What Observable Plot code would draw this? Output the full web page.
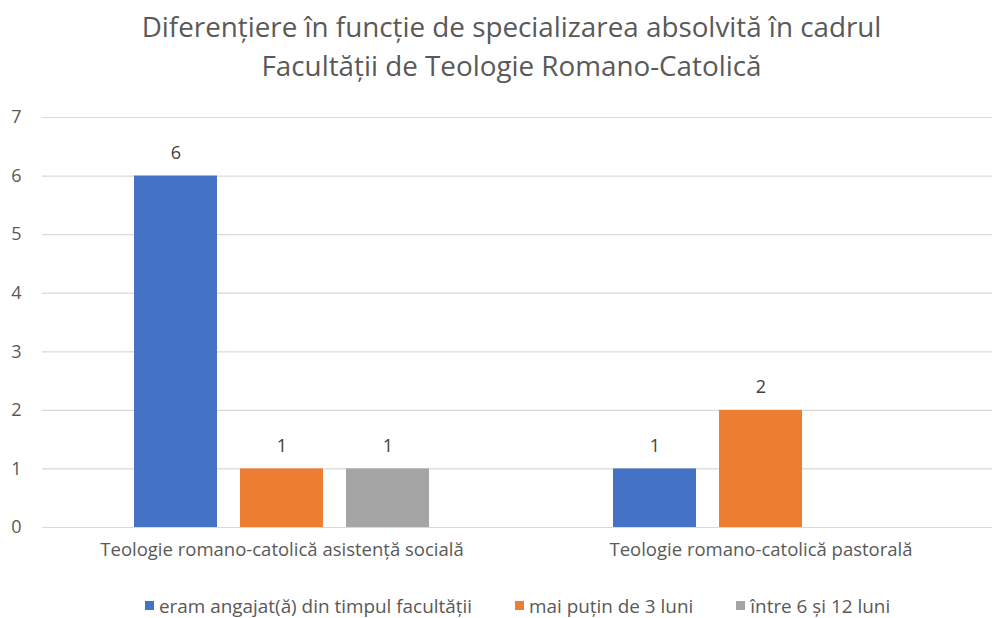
<!DOCTYPE html>
<html><head><meta charset="utf-8">
<script src="https://cdn.jsdelivr.net/npm/d3@7"></script>
<script src="https://cdn.jsdelivr.net/npm/@observablehq/plot@0.6"></script>
<style>
html,body{margin:0;padding:0;background:#fff;}
body{width:992px;height:618px;overflow:hidden;font-family:"Open Sans",sans-serif;color:#595959;}
#title{height:95px;box-sizing:border-box;padding-top:7px;padding-left:31px;text-align:center;font-size:27.8px;line-height:39px;color:#595959;white-space:nowrap;}
#chart svg{display:block;}
#legend{height:43px;box-sizing:border-box;padding-top:18px;padding-left:145px;display:flex;align-items:center;font-size:18.9px;line-height:22px;color:#595959;white-space:nowrap;}
.item{display:flex;align-items:center;margin-right:43px;}
.sw{width:9px;height:9px;margin-right:5px;}
</style>
</head><body>
<div id="title">Diferențiere în funcție de specializarea absolvită în cadrul<br>Facultății de Teologie Romano-Catolică</div>
<div id="chart"></div>
<div id="legend"></div>
<script>
const categories = ["Teologie romano-catolică asistență socială", "Teologie romano-catolică pastorală"];
const seriesNames = ["eram angajat(ă) din timpul facultății", "mai puțin de 3 luni", "între 6 și 12 luni"];
const angajat = [6, 1];
const sub3luni = [1, 2];
const intre6si12 = [1, null];
const yTicks = [0, 1, 2, 3, 4, 5, 6, 7];
const colors = ["#4472C4", "#ED7D31", "#A5A5A5"];

const rows = [];
[angajat, sub3luni, intre6si12].forEach((vals, si) =>
  categories.forEach((c, ci) => rows.push({cat: c, series: seriesNames[si], value: vals[ci]})));
const bars = rows.filter(d => d.value != null);

const chart = Plot.plot({
  width: 992, height: 480,
  marginTop: 22, marginBottom: 48, marginLeft: 42, marginRight: 0,
  style: {fontFamily: "'Open Sans', sans-serif", fontSize: "18px", color: "#595959", background: "white"},
  fx: {domain: categories, range: [42, 1000], padding: 0, label: null, tickSize: 0, tickPadding: 15},
  x: {domain: seriesNames, paddingInner: 0.214, paddingOuter: 0.86, axis: null},
  y: {domain: [0, 7], ticks: yTicks, tickFormat: d => String(d), label: null, tickSize: 0, tickPadding: 21},
  color: {domain: seriesNames, range: colors},
  marks: [
    Plot.gridY(yTicks, {stroke: "#d9d9d9", strokeOpacity: 1, strokeWidth: 1.2}),
    Plot.barY(bars, {fx: "cat", x: "series", y: "value", fill: "series"}),
    Plot.text(bars, {fx: "cat", x: "series", y: "value", text: d => String(d.value), dy: -23, fill: "#404040", fontSize: 18})
  ]
});
chart.querySelectorAll("g[aria-label='fx-axis tick label'] text, g[aria-label='fx-axis'] text").forEach(t => t.style.fontSize = "18.5px");
document.getElementById("chart").appendChild(chart);

const legend = document.getElementById("legend");
seriesNames.forEach((s, i) => {
  const it = document.createElement("div");
  it.className = "item";
  const sw = document.createElement("div");
  sw.className = "sw";
  sw.style.background = colors[i];
  const t = document.createElement("span");
  t.textContent = s;
  it.appendChild(sw); it.appendChild(t);
  legend.appendChild(it);
});
</script>
</body></html>
